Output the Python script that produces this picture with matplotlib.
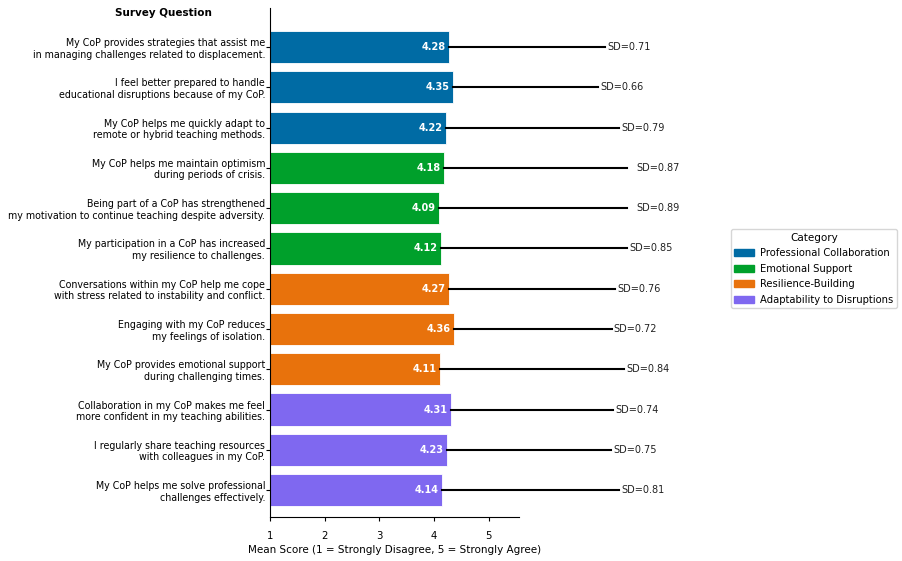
import numpy as np
import matplotlib.pyplot as plt
from matplotlib.patches import Patch

questions = [
    "My CoP provides strategies that assist me\nin managing challenges related to displacement.",
    "I feel better prepared to handle\neducational disruptions because of my CoP.",
    "My CoP helps me quickly adapt to\nremote or hybrid teaching methods.",
    "My CoP helps me maintain optimism\nduring periods of crisis.",
    "Being part of a CoP has strengthened\nmy motivation to continue teaching despite adversity.",
    "My participation in a CoP has increased\nmy resilience to challenges.",
    "Conversations within my CoP help me cope\nwith stress related to instability and conflict.",
    "Engaging with my CoP reduces\nmy feelings of isolation.",
    "My CoP provides emotional support\nduring challenging times.",
    "Collaboration in my CoP makes me feel\nmore confident in my teaching abilities.",
    "I regularly share teaching resources\nwith colleagues in my CoP.",
    "My CoP helps me solve professional\nchallenges effectively.",
]
means = [4.28, 4.35, 4.22, 4.18, 4.09, 4.12, 4.27, 4.36, 4.11, 4.31, 4.23, 4.14]
sds = [0.71, 0.66, 0.79, 0.87, 0.89, 0.85, 0.76, 0.72, 0.84, 0.74, 0.75, 0.81]
categories = ["Professional Collaboration"] * 3 + ["Emotional Support"] * 3 + \
             ["Resilience-Building"] * 3 + ["Adaptability to Disruptions"] * 3

palette = {
    "Professional Collaboration": "#006BA4",
    "Emotional Support": "#00A02B",
    "Resilience-Building": "#E8720C",
    "Adaptability to Disruptions": "#7F68F0",
}

fig = plt.figure(figsize=(9.02, 5.61), dpi=100)
ax = fig.add_axes([0.2993, 0.0784, 0.2761, 0.9073])

y = np.arange(len(questions))
colors = [palette[c] for c in categories]
ax.barh(y, np.array(means) - 1, left=1, height=0.8, color=colors,
        edgecolor="white", linewidth=0.6)

# sd lines, stretched x4, cut off at the right
line_end = np.minimum(np.array(means) + 4 * np.array(sds), 7.53)
text_x = np.array(means) + 4 * np.array(sds)
for i in range(len(questions)):
    ax.plot([means[i], line_end[i]], [y[i], y[i]], color="black", lw=1.5,
            clip_on=False, zorder=1)
    ax.text(text_x[i] + 0.04, y[i], f"SD={sds[i]:.2f}", va="center", ha="left",
            fontsize=7, color="#222222", clip_on=False)
    ax.text(means[i] - 0.06, y[i], f"{means[i]:.2f}", va="center", ha="right",
            fontsize=7, color="white", fontweight="bold")

ax.set_yticks(y)
ax.set_yticklabels(questions, fontsize=6.85, linespacing=1.2)
ax.set_ylim(11.67, -0.97)
ax.set_xlim(1, 5.55)
ax.set_xticks([1, 2, 3, 4, 5])
ax.tick_params(axis="x", labelsize=7.3, length=3, pad=7)
ax.tick_params(axis="y", length=3, pad=0.5)
ax.set_xlabel("Mean Score (1 = Strongly Disagree, 5 = Strongly Agree)", fontsize=7.5, labelpad=3)
ax.spines["top"].set_visible(False)
ax.spines["right"].set_visible(False)

fig.text(0.181, 0.977, "Survey Question", ha="center", va="center",
         fontsize=7.5, fontweight="bold")

handles = [Patch(color=palette[k], label=k) for k in palette]
fig.legend(handles=handles, title="Category", loc="center left",
           bbox_to_anchor=(0.8104, 0.521), fontsize=7.2, title_fontsize=7.5,
           handlelength=2.0, handleheight=0.7, handletextpad=0.6,
           borderpad=0.35, borderaxespad=0, labelspacing=0.55)

fig.savefig("out.png", dpi=100)
